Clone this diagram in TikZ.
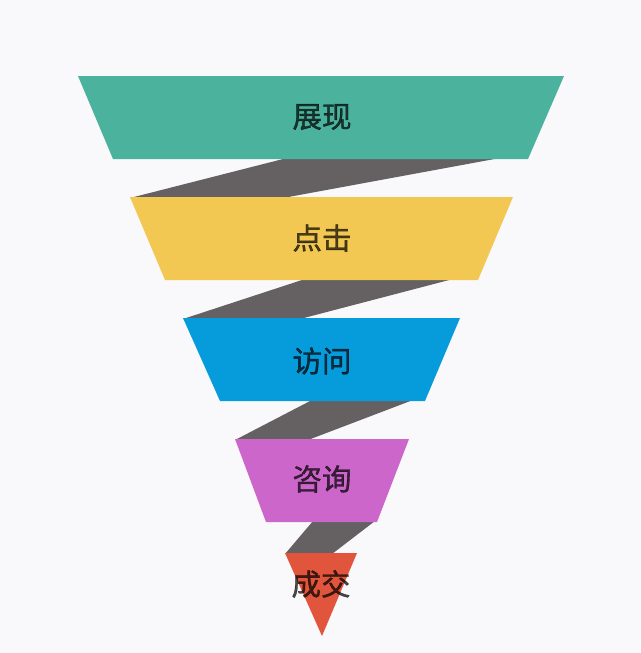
\documentclass[tikz,border=0pt]{standalone}
\usepackage{fontspec}
\newfontfamily\cjk[FakeBold=1.2]{Noto Sans CJK SC}
\definecolor{bgc}{HTML}{F9F8FB}
\definecolor{cgreen}{HTML}{4BB29D}
\definecolor{cyellow}{HTML}{F2C852}
\definecolor{cblue}{HTML}{069CDC}
\definecolor{cpurple}{HTML}{CC66CA}
\definecolor{cred}{HTML}{E0553B}
\definecolor{cgray}{HTML}{656163}
\tikzset{
  band/.style={fill=cgray, draw=none},
  lbl/.style={font=\cjk\fontsize{29.5}{29.5}\selectfont, text=black, text opacity=0.7, inner sep=0pt}
}
\begin{document}
\begin{tikzpicture}[x=1pt,y=-1pt]
\fill[bgc] (0,0) rectangle (640,653);
\useasboundingbox (0,0) rectangle (640,653);
% connecting bands
\fill[band] (287,158) -- (500,158) -- (283,198) -- (130,198) -- cycle;
\fill[band] (305,279) -- (453,279) -- (300,319) -- (183,319) -- cycle;
\fill[band] (312,400) -- (413,400) -- (308,440) -- (235,440) -- cycle;
\fill[band] (313,521) -- (375,521) -- (332,554) -- (285,554) -- cycle;
% funnel stages
\fill[cgreen] (78,76) -- (564,76) -- (528,159) -- (113,159) -- cycle;
\fill[cyellow] (130,197) -- (513,197) -- (478,280) -- (165,280) -- cycle;
\fill[cblue] (183,318) -- (460,318) -- (425,401) -- (220,401) -- cycle;
\fill[cpurple] (235,439) -- (409,439) -- (377,522) -- (266,522) -- cycle;
\fill[cred] (285,553) -- (357,553) -- (322,636) -- cycle;
% labels
\node[lbl] (s1) at (322,117) {展现};
\node[lbl] (s2) at (322,238) {点击};
\node[lbl] (s3) at (322,361) {访问};
\node[lbl] (s4) at (322,479) {咨询};
\node[lbl] (s5) at (321,584) {成交};
\end{tikzpicture}
\end{document}
